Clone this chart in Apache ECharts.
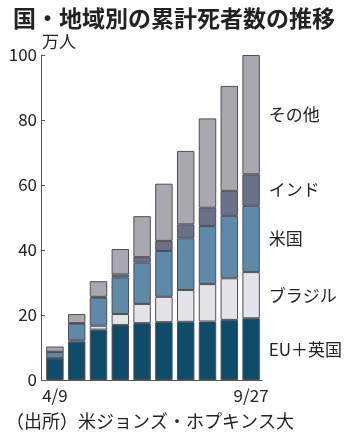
<!DOCTYPE html>
<html>
<head>
<meta charset="utf-8">
<style>
  html, body { margin: 0; padding: 0; background: #fff; }
  #chart { width: 350px; height: 442px; }
</style>
<script src="https://cdn.jsdelivr.net/npm/echarts@6/dist/echarts.min.js"></script>
</head>
<body>
<div id="chart"></div>
<script>
// Cumulative COVID-19 deaths by country/region (unit: 10,000 people)
const tickLabels = ['4/9', '', '', '', '', '', '', '', '', '9/27'];
const euUk   = [6.6, 11.8, 15.5, 16.9, 17.5, 17.8, 17.9, 18.0, 18.5, 19.0];
const brazil = [0.1, 0.4, 1.2, 3.4, 5.9, 7.8, 9.8, 11.5, 12.8, 14.2];
const usa    = [1.9, 5.1, 8.6, 11.3, 12.7, 14.1, 15.9, 17.9, 19.2, 20.4];
const india  = [0.1, 0.2, 0.3, 0.9, 1.7, 3.1, 4.3, 5.6, 7.7, 9.7];
const others = [1.6, 2.8, 4.8, 7.8, 12.6, 17.6, 22.6, 27.5, 32.3, 36.7];
const yTicks = [0, 20, 40, 60, 80, 100];

const seriesDefs = [
  { name: 'EU＋英国', values: euUk,   color: '#0e4c6a' },
  { name: 'ブラジル', values: brazil, color: '#e3e3e9' },
  { name: '米国',     values: usa,    color: '#5f89a8' },
  { name: 'インド',   values: india,  color: '#697087' },
  { name: 'その他',   values: others, color: '#a9a8b1' }
];

const FONT = '"Noto Sans CJK JP", "Noto Sans", sans-serif';
const TEXT = '#222';

const chart = echarts.init(document.getElementById('chart'), null, { renderer: 'canvas' });

const last = tickLabels.length - 1;

chart.setOption({
  animation: false,
  backgroundColor: '#fff',
  textStyle: { fontFamily: FONT },
  title: {
    text: '国・地域別の累計死者数の推移',
    left: 8,
    top: 2,
    textStyle: { fontFamily: FONT, fontSize: 23, fontWeight: 'bold', color: TEXT }
  },
  graphic: [
    {
      type: 'text', left: 42, top: 33,
      style: { text: '万人', font: '17px ' + FONT, fill: TEXT }
    },
    {
      type: 'text', left: 6, top: 412,
      style: { text: '（出所）米ジョンズ・ホプキンス大', font: '18px ' + FONT, fill: TEXT }
    }
  ],
  grid: { left: 44, right: 88, top: 55, bottom: 62, containLabel: false },
  xAxis: {
    type: 'category',
    data: tickLabels,
    axisLine: { show: true, lineStyle: { color: '#555', width: 1 } },
    axisTick: { show: false },
    axisLabel: {
      interval: 0,
      margin: 7,
      fontSize: 17,
      color: TEXT,
      fontFamily: FONT
    }
  },
  yAxis: {
    type: 'value',
    min: yTicks[0],
    max: yTicks[yTicks.length - 1],
    interval: yTicks[1] - yTicks[0],
    offset: 3,
    splitLine: { show: false },
    axisLine: { show: true, lineStyle: { color: '#555', width: 1 } },
    axisTick: { show: true, inside: true, length: 4, lineStyle: { color: '#555' } },
    axisLabel: { fontSize: 17, color: TEXT, fontFamily: FONT, margin: 4 }
  },
  series: seriesDefs.map(s => ({
    name: s.name,
    type: 'bar',
    stack: 'total',
    barCategoryGap: '20%',
    itemStyle: { color: s.color, borderColor: '#4d4d52', borderWidth: 1 },
    data: s.values.map((v, i) => i === last
      ? {
          value: v,
          label: {
            show: true,
            position: 'right',
            distance: 9,
            formatter: s.name,
            fontSize: 17,
            color: TEXT,
            fontFamily: FONT
          }
        }
      : v)
  }))
});
</script>
</body>
</html>
